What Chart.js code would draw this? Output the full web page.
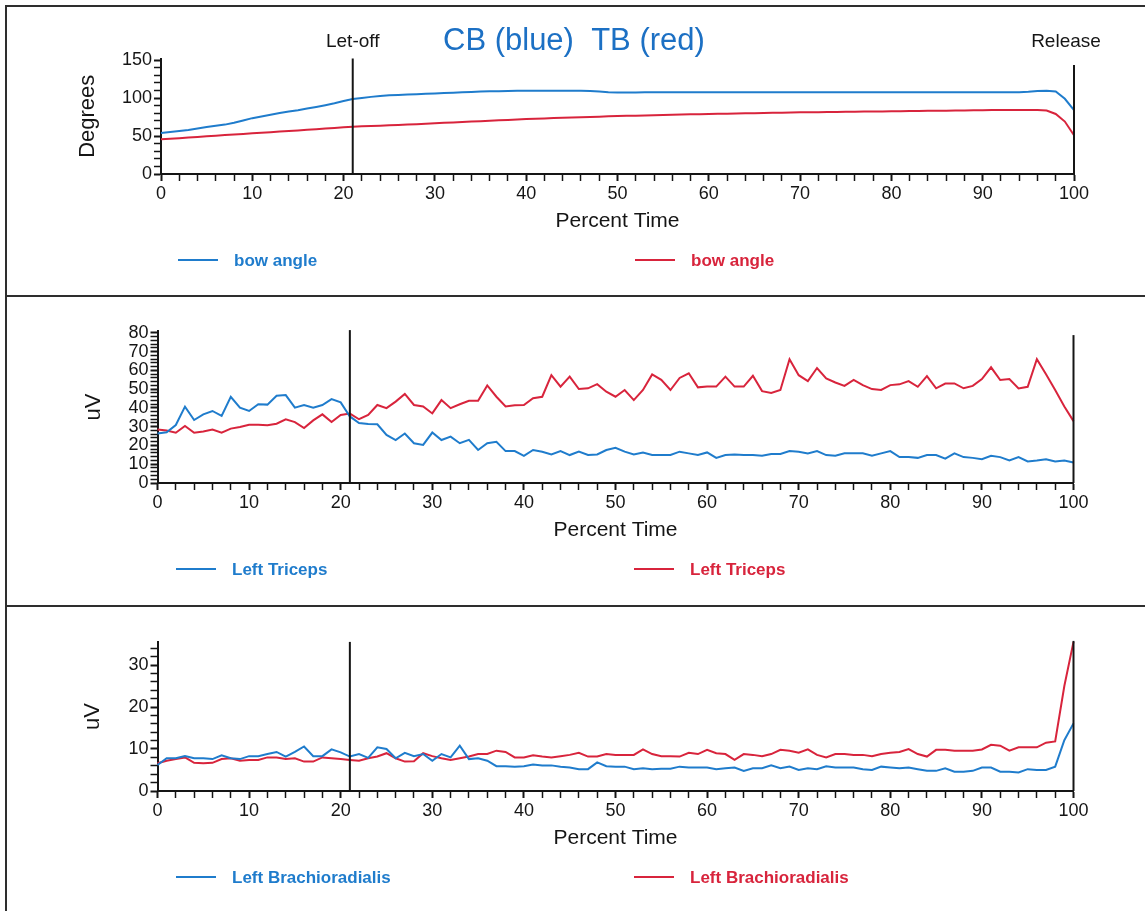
<!DOCTYPE html>
<html>
<head>
<meta charset="utf-8">
<title>CB vs TB - bow angle and EMG</title>
<script src="https://cdn.jsdelivr.net/npm/chart.js@4.4.1/dist/chart.umd.min.js"></script>
<style>
    html, body { margin: 0; padding: 0; background: #fff; }
    #page { position: relative; width: 1145px; height: 911px; overflow: hidden; background: #fff; }
    .panel { position: absolute; left: 0; }
    .rule { position: absolute; background: #2e2e2e; }
</style>
</head>
<body>
<div id="page">
    <div class="rule" style="left:5px;top:5px;width:1140px;height:2px"></div>
    <div class="rule" style="left:5px;top:5px;width:2px;height:906px"></div>
    <div class="rule" style="left:5px;top:295px;width:1140px;height:2px"></div>
    <div class="rule" style="left:5px;top:605px;width:1140px;height:2px"></div>
    <canvas id="chartAngle" class="panel" width="1145" height="296" style="top:0px"></canvas>
    <canvas id="chartTriceps" class="panel" width="1145" height="309" style="top:296px"></canvas>
    <canvas id="chartBrachio" class="panel" width="1145" height="306" style="top:605px"></canvas>
</div>
<script>
/* =========================================================
   CB (blue) vs TB (red) - bow angle, triceps and
   brachioradialis EMG over percent of draw time
========================================================= */

// X positions (percent time, 1% steps)
const percentTime = Array.from({ length: 101 }, (_, i) => i);

const eventTimes = [21, 100];
const eventLabels = ['Let-off', 'Release'];

// Bow angle (degrees)
const cbBowAngle = [
    54, 55.2, 56.5, 58, 59.8, 61.8, 63.4, 65, 67.5, 70.5,
    73.5, 75.8, 78, 80.2, 82.2, 84, 86.2, 88.3, 90.6, 93,
    96, 98.6, 100, 101.5, 102.5, 103.5, 104, 104.5, 105, 105.5,
    106, 106.5, 107, 107.5, 108, 108.5, 108.8, 109, 109.2, 109.4,
    109.6, 109.6, 109.6, 109.6, 109.6, 109.6, 109.6, 109.3, 108.5, 107.5,
    107.2, 107.3, 107.4, 107.5, 107.5, 107.5, 107.5, 107.5, 107.5, 107.5,
    107.5, 107.5, 107.5, 107.5, 107.5, 107.5, 107.5, 107.5, 107.5, 107.5,
    107.5, 107.5, 107.5, 107.5, 107.5, 107.5, 107.5, 107.5, 107.5, 107.5,
    107.5, 107.5, 107.5, 107.5, 107.5, 107.5, 107.5, 107.5, 107.5, 107.5,
    107.5, 107.5, 107.5, 107.5, 107.6, 108.2, 109.3, 109.5, 108.5, 99,
    84
];
const tbBowAngle = [
    45.6, 46.4, 47.2, 48, 48.8, 49.6, 50.4, 51.2, 52, 52.8,
    53.5, 54.3, 55.1, 55.9, 56.6, 57.4, 58.2, 59, 59.8, 60.6,
    61.4, 62.3, 62.7, 63.2, 63.6, 64.1, 64.5, 65, 65.6, 66.1,
    66.7, 67.3, 67.8, 68.4, 69, 69.5, 70.1, 70.7, 71.2, 71.8,
    72.4, 72.8, 73.2, 73.6, 74, 74.4, 74.7, 75.1, 75.5, 75.9,
    76.3, 76.6, 76.8, 77.1, 77.4, 77.7, 77.9, 78.2, 78.5, 78.7,
    79, 79.2, 79.4, 79.6, 79.8, 80, 80.3, 80.5, 80.7, 80.9,
    81.1, 81.2, 81.4, 81.5, 81.7, 81.8, 81.9, 82.1, 82.2, 82.4,
    82.5, 82.7, 82.8, 83, 83.1, 83.3, 83.4, 83.6, 83.7, 83.9,
    84, 84.1, 84.1, 84.2, 84.2, 84.3, 84.3, 83.5, 79, 69,
    51
];

// Left triceps (uV)
const cbTriceps = [
    26.4, 27, 30.9, 40.7, 33.6, 36.6, 38.4, 35.8, 46, 40.2,
    38.4, 42, 41.8, 46.5, 46.9, 40.2, 41.6, 40.2, 41.6, 44.7,
    43, 35.5, 32, 31.5, 31.3, 25.6, 22.9, 26.4, 21.2, 20.3,
    26.9, 22.9, 24.7, 21.2, 23, 17.6, 21.2, 22, 17, 17,
    14.5, 17.6, 16.7, 15.2, 17, 14.9, 16.7, 14.9, 15.2, 17.6,
    18.8, 16.7, 15.2, 16.3, 14.9, 14.9, 14.9, 16.7, 15.8, 14.9,
    16.3, 13.4, 14.9, 15.2, 14.9, 14.9, 14.5, 15.5, 15.5, 17,
    16.7, 15.8, 17, 14.9, 14.5, 15.8, 15.8, 15.8, 14.5, 15.8,
    17, 13.8, 13.8, 13.4, 14.9, 14.9, 13, 15.8, 13.8, 13.4,
    12.7, 14.5, 13.8, 12, 13.8, 11.5, 12, 12.7, 11.5, 12,
    10.9
];
const tbTriceps = [
    28.5, 28, 26.8, 30.4, 26.8, 27.5, 28.5, 26.8, 29, 29.9,
    31.1, 31.1, 30.8, 31.6, 34, 32.5, 29.3, 33.4, 36.6, 32.5,
    36.3, 37, 34, 36.3, 41.6, 39.9, 43.4, 47.5, 41.6, 40.8,
    37.1, 44.2, 39.9, 42, 43.8, 43.8, 52, 46, 40.8, 41.5,
    41.6, 45.2, 46, 57.5, 51.4, 56.7, 50.1, 50.5, 52.7, 48.7,
    46, 49.6, 44.2, 49.6, 57.9, 55, 49.6, 56, 58.5, 51,
    51.4, 51.4, 56.7, 51.4, 51.4, 57.2, 49, 48, 49.6, 66,
    57.5, 54.3, 61.3, 55.8, 53.6, 51.8, 55, 52.2, 50.1, 49.6,
    52.2, 52.6, 54.3, 51.3, 57, 50.5, 53, 53.1, 50.5, 51.8,
    55.4, 61.7, 54.9, 55.4, 50.4, 51.3, 66, 58, 49.6, 40.8,
    33
];

// Left brachioradialis (uV)
const cbBrachio = [
    6.2, 7.8, 7.8, 8.3, 7.8, 7.8, 7.6, 8.5, 7.8, 7.6,
    8.3, 8.3, 8.8, 9.3, 8.2, 9.3, 10.6, 8.3, 8.3, 9.9,
    9.2, 8.2, 8.8, 7.9, 10.4, 10, 7.8, 9.1, 8.3, 8.8,
    7.2, 8.8, 8, 10.8, 7.6, 7.8, 7.2, 5.9, 5.9, 5.8,
    5.9, 6.3, 6.1, 6.1, 5.8, 5.6, 5.2, 5.2, 6.8, 5.9,
    5.8, 5.8, 5.2, 5.4, 5.2, 5.3, 5.3, 5.8, 5.6, 5.6,
    5.6, 5.2, 5.4, 5.6, 4.8, 5.4, 5.4, 6.1, 5.4, 5.8,
    5, 5.4, 5.2, 5.9, 5.6, 5.6, 5.6, 5.2, 5, 5.8,
    5.6, 5.4, 5.6, 5.2, 4.8, 4.8, 5.4, 4.6, 4.6, 4.8,
    5.6, 5.6, 4.6, 4.6, 4.4, 5.2, 5, 5, 5.8, 12.1,
    16.1
];
const tbBrachio = [
    6.6, 7.2, 7.6, 8, 6.7, 6.6, 6.7, 7.6, 7.8, 7.2,
    7.4, 7.4, 8, 8, 7.6, 7.8, 7, 7, 8, 7.8,
    7.6, 7.4, 7.2, 7.8, 8.2, 9, 7.8, 7, 7.1, 9,
    8.3, 7.8, 7.4, 7.8, 8.2, 8.8, 8.8, 9.6, 9.3, 8,
    8, 8.5, 8.2, 8, 8.3, 8.6, 9.1, 8.2, 8.2, 8.8,
    8.6, 8.6, 8.6, 9.9, 8.8, 8.3, 8.3, 8.2, 9.1, 8.8,
    9.8, 9, 8.8, 7.4, 8.8, 8.6, 8.3, 8.8, 9.8, 9.6,
    9.1, 9.9, 8.6, 8, 8.8, 8.8, 8.6, 8.6, 8.3, 8.8,
    9.1, 9.3, 10, 8.8, 8.2, 9.8, 9.8, 9.6, 9.6, 9.6,
    9.9, 11, 10.8, 9.6, 10.4, 10.4, 10.4, 11.5, 11.8, 25,
    35.5
];

const CB_BLUE = '#1f7ccc';
const TB_RED = '#d8243c';
const INK = '#151515';

Chart.defaults.font.family = "'Liberation Sans', Arial, sans-serif";
Chart.defaults.color = INK;

// Event lines, legend row and panel title drawn over each chart
const panelDecor = {
    id: 'panelDecor',
    afterDraw(chart, args, opts) {
        const { ctx, chartArea } = chart;
        const xScale = chart.scales.x;
        ctx.save();

        // Let-off / Release markers
        eventTimes.forEach((t, i) => {
            const px = xScale.getPixelForValue(t);
            ctx.strokeStyle = INK;
            ctx.lineWidth = 2;
            ctx.beginPath();
            ctx.moveTo(px, chartArea.top + opts.markTops[i]);
            ctx.lineTo(px, chartArea.bottom);
            ctx.stroke();
            if (opts.showEventLabels) {
                ctx.fillStyle = INK;
                ctx.font = "19px 'Liberation Sans', Arial, sans-serif";
                ctx.textAlign = 'center';
                ctx.textBaseline = 'middle';
                ctx.fillText(eventLabels[i], px + opts.labelDx[i], opts.labelY);
            }
        });

        // Legend: one entry per dataset
        chart.data.datasets.forEach((ds, i) => {
            const lx = opts.legendX[i];
            ctx.strokeStyle = ds.borderColor;
            ctx.lineWidth = 2;
            ctx.beginPath();
            ctx.moveTo(lx, opts.legendY);
            ctx.lineTo(lx + 40, opts.legendY);
            ctx.stroke();
            ctx.fillStyle = ds.borderColor;
            ctx.font = "bold 17px 'Liberation Sans', Arial, sans-serif";
            ctx.textAlign = 'left';
            ctx.textBaseline = 'middle';
            ctx.fillText(ds.label, lx + 56, opts.legendY + 1);
        });

        if (opts.title) {
            ctx.fillStyle = '#1c70c4';
            ctx.font = "31px 'Liberation Sans', Arial, sans-serif";
            ctx.textAlign = 'left';
            ctx.textBaseline = 'middle';
            ctx.fillText(opts.title, 443, 41);
        }
        ctx.restore();
    }
};

function isMultiple(v, step) {
    return Math.abs(v / step - Math.round(v / step)) < 1e-6;
}

function series(label, values, color) {
    return {
        label: label,
        data: values.map((v, i) => ({ x: percentTime[i], y: v })),
        borderColor: color,
        backgroundColor: color,
        borderWidth: 2,
        pointRadius: 0,
        tension: 0,
        fill: false,
        clip: 6
    };
}

function makePanel(canvasId, cfg) {
    const axisFont = { size: 18 };
    return new Chart(document.getElementById(canvasId), {
        type: 'line',
        data: {
            datasets: [
                series(cfg.label, cfg.blue, CB_BLUE),
                series(cfg.label, cfg.red, TB_RED)
            ]
        },
        options: {
            responsive: false,
            animation: false,
            events: [],
            layout: { padding: cfg.padding },
            plugins: {
                legend: { display: false },
                tooltip: { enabled: false },
                panelDecor: cfg.decor
            },
            scales: {
                x: {
                    type: 'linear',
                    min: 0,
                    max: 100,
                    afterFit: s => { s.height = cfg.xAxisHeight; },
                    border: { color: INK, width: 2 },
                    grid: {
                        drawOnChartArea: false,
                        drawTicks: true,
                        tickLength: 7,
                        tickColor: INK,
                        tickWidth: c => (c.tick && isMultiple(c.tick.value, 10)) ? 2 : 1.5
                    },
                    ticks: {
                        stepSize: 2,
                        autoSkip: false,
                        maxRotation: 0,
                        padding: 2,
                        color: INK,
                        font: axisFont,
                        callback: v => isMultiple(v, 10) ? String(v) : ''
                    },
                    title: {
                        display: true,
                        text: 'Percent Time',
                        color: INK,
                        font: { size: 21 },
                        padding: 0
                    }
                },
                y: {
                    type: 'linear',
                    min: 0,
                    max: cfg.yMax,
                    afterFit: s => { s.width = cfg.yAxisWidth; },
                    border: { color: INK, width: 2 },
                    grid: {
                        drawOnChartArea: false,
                        drawTicks: true,
                        tickLength: 7,
                        tickColor: INK,
                        tickWidth: c => (c.tick && isMultiple(c.tick.value, cfg.yLabelStep)) ? 2 : 1.5
                    },
                    ticks: {
                        stepSize: cfg.yStep,
                        includeBounds: false,
                        autoSkip: false,
                        padding: 2,
                        color: INK,
                        font: axisFont,
                        callback: v => isMultiple(v, cfg.yLabelStep) ? String(v) : ''
                    },
                    title: {
                        display: true,
                        text: cfg.yTitle,
                        color: INK,
                        font: { size: 22 },
                        padding: 0
                    }
                }
            }
        },
        plugins: [panelDecor]
    });
}

// Top panel: bow angle
makePanel('chartAngle', {
    label: 'bow angle',
    blue: cbBowAngle,
    red: tbBowAngle,
    yMax: 152,
    yStep: 10,
    yLabelStep: 50,
    yTitle: 'Degrees',
    yAxisWidth: 86.3,
    xAxisHeight: 59.6,
    padding: { left: 74.7, right: 71, top: 58.5, bottom: 62.4 },
    decor: {
        markTops: [0, 6.5],
        showEventLabels: true,
        labelDx: [0, -8],
        labelY: 42,
        legendX: [178, 635],
        legendY: 260,
        title: 'CB (blue)  TB (red)'
    }
});

// Middle panel: left triceps
makePanel('chartTriceps', {
    label: 'Left Triceps',
    blue: cbTriceps,
    red: tbTriceps,
    yMax: 81,
    yStep: 2,
    yLabelStep: 10,
    yTitle: 'uV',
    yAxisWidth: 76.8,
    xAxisHeight: 59.6,
    padding: { left: 80.7, right: 71.5, top: 35.1, bottom: 62.4 },
    decor: {
        markTops: [-1, 4],
        showEventLabels: false,
        legendX: [176, 634],
        legendY: 273
    }
});

// Bottom panel: left brachioradialis
makePanel('chartBrachio', {
    label: 'Left Brachioradialis',
    blue: cbBrachio,
    red: tbBrachio,
    yMax: 35.5,
    yStep: 2,
    yLabelStep: 10,
    yTitle: 'uV',
    yAxisWidth: 77.8,
    xAxisHeight: 59.6,
    padding: { left: 79.7, right: 71.5, top: 36.9, bottom: 60.4 },
    decor: {
        markTops: [0, -1],
        showEventLabels: false,
        legendX: [176, 634],
        legendY: 272
    }
});
</script>
</body>
</html>
